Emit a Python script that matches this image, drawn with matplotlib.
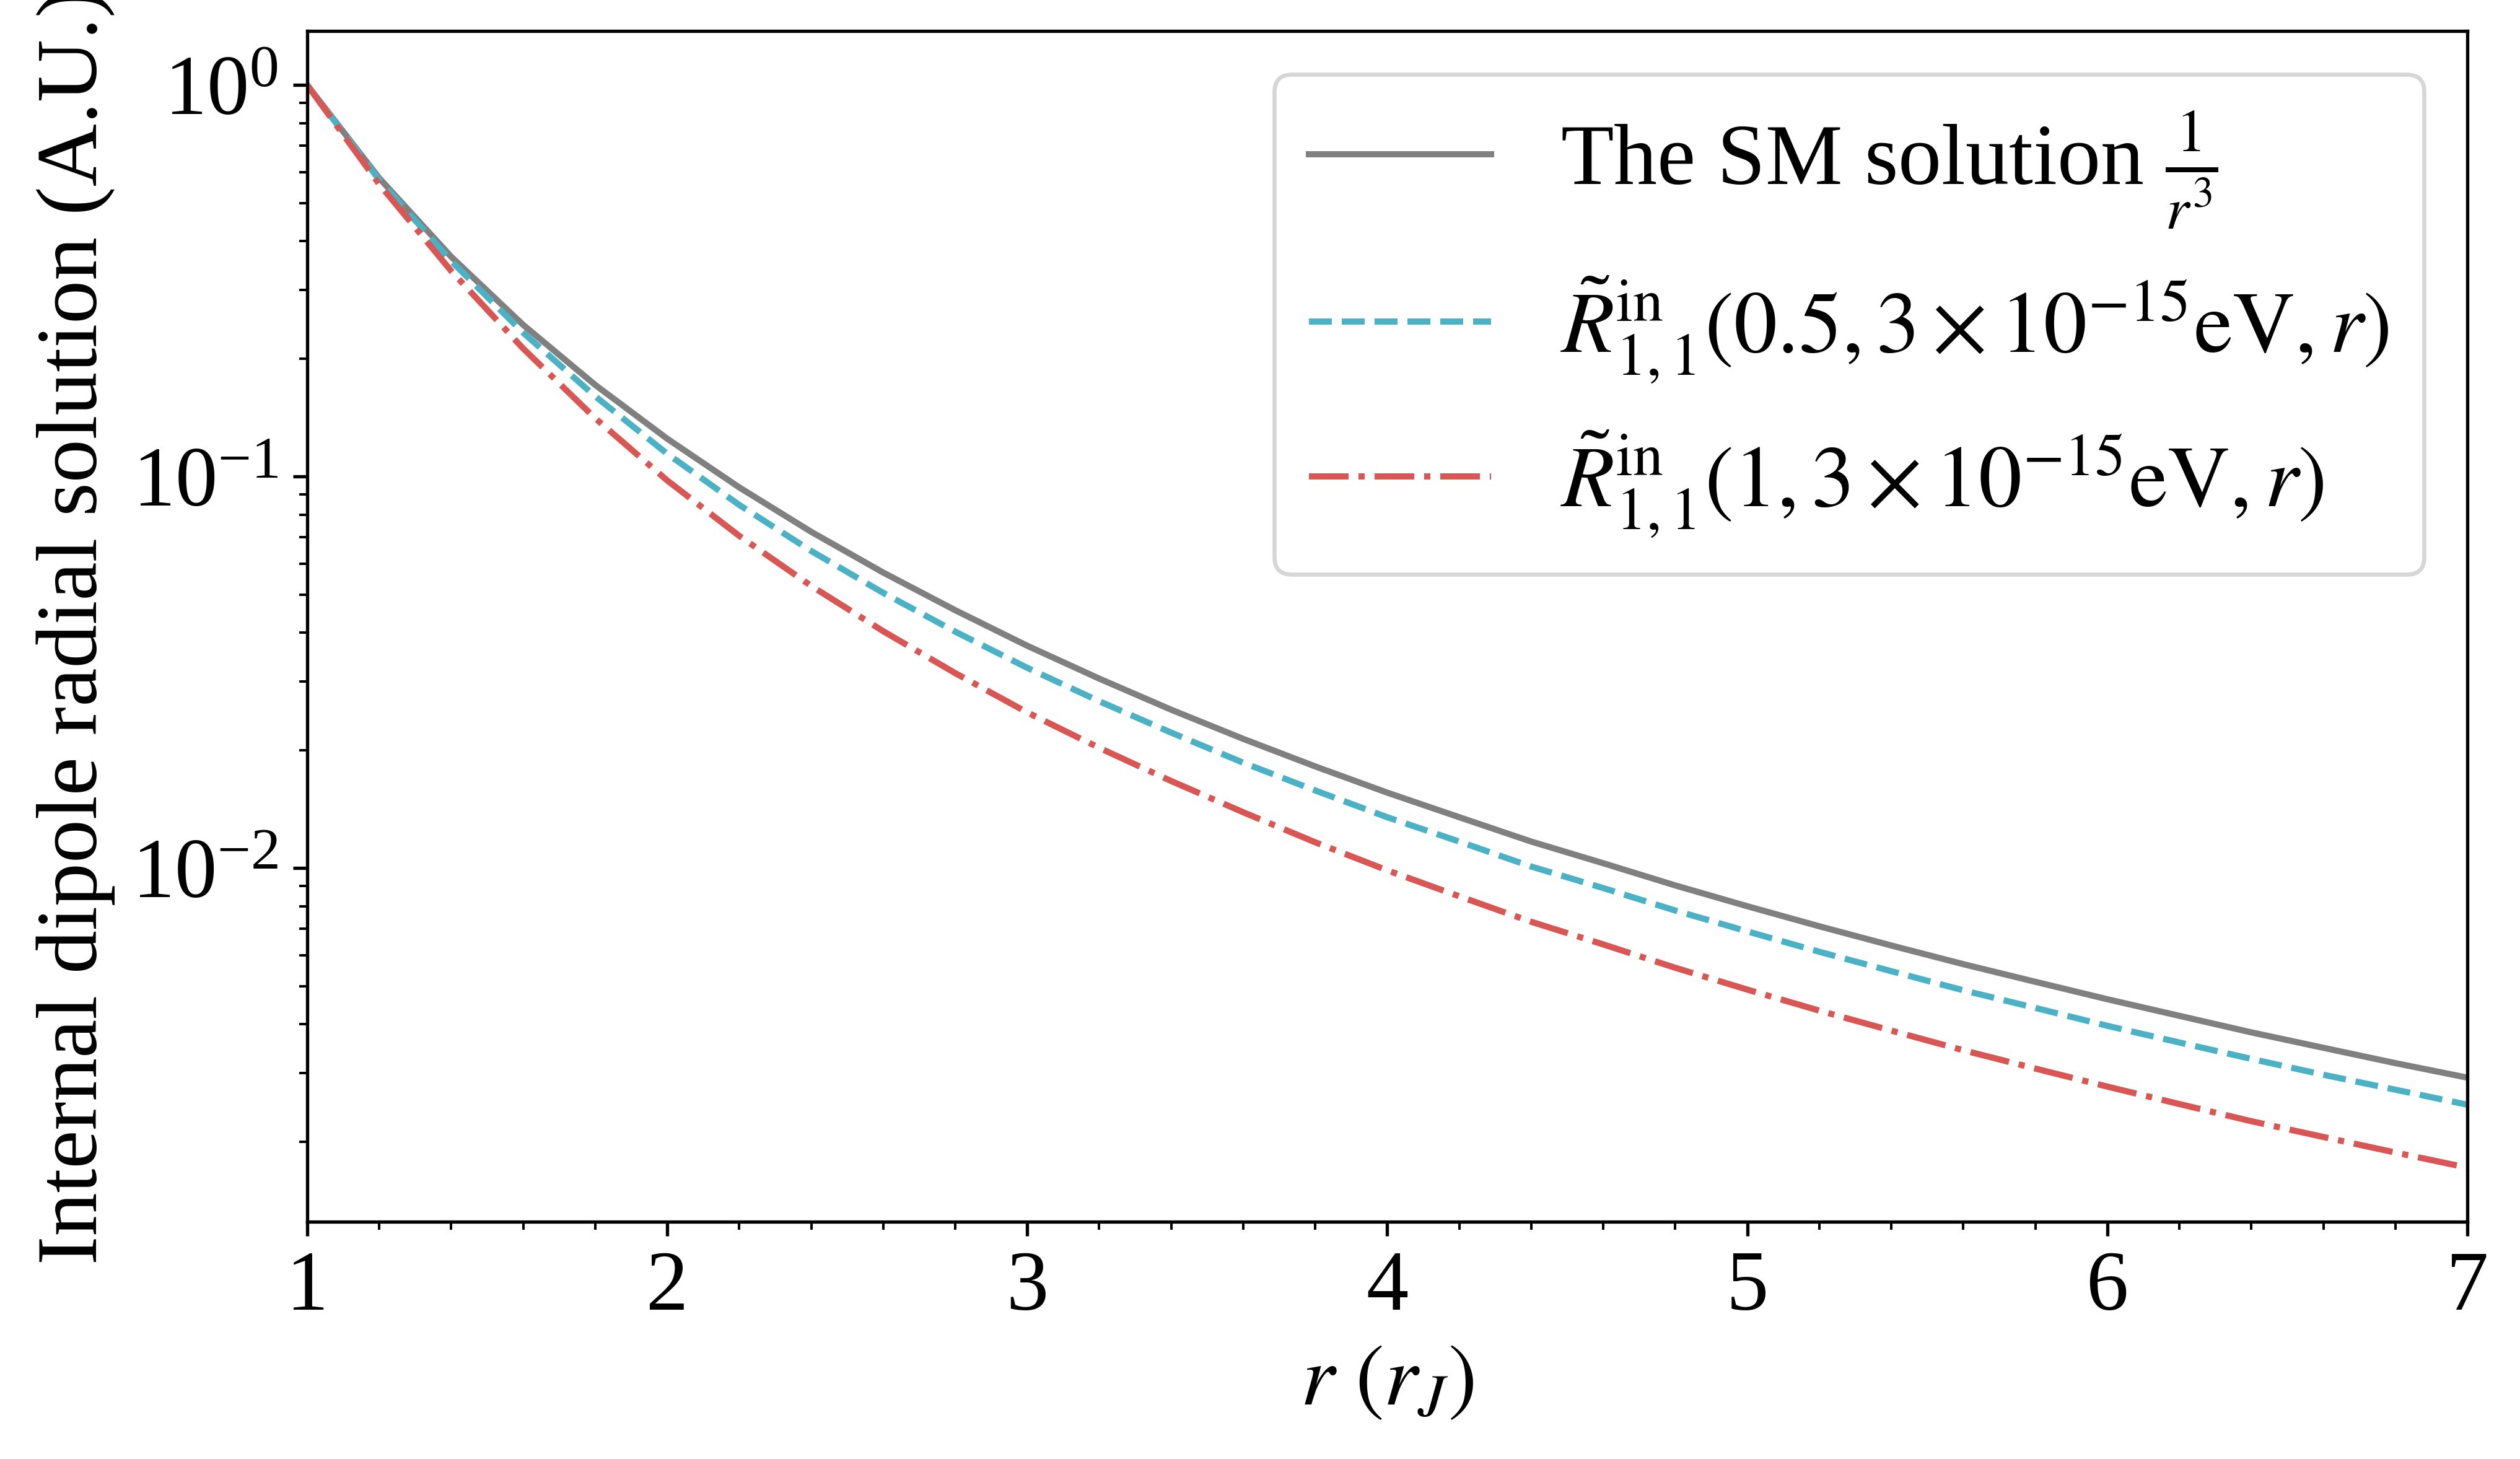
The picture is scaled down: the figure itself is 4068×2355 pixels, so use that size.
import matplotlib
matplotlib.use("Agg")
import matplotlib.pyplot as plt

plt.rcParams['font.family'] = ['Liberation Serif', 'STIXGeneral', 'DejaVu Serif']
plt.rcParams['mathtext.fontset'] = 'stix'

# radius in units of r_J
r_vals = [1.0, 1.2, 1.4, 1.6, 1.8, 2.0, 2.2, 2.4, 2.6, 2.8, 3.0,
          3.2, 3.4, 3.6, 3.8, 4.0, 4.2, 4.4, 4.6, 4.8, 5.0,
          5.2, 5.4, 5.6, 5.8, 6.0, 6.2, 6.4, 6.6, 6.8, 7.0]

# SM solution 1/r^3
sm_vals = [1.0, 0.5787, 0.3644, 0.2441, 0.1715, 0.125, 0.0939, 0.0723, 0.0569, 0.0456, 0.0370,
           0.0305, 0.0254, 0.0214, 0.0182, 0.0156, 0.0135, 0.0117, 0.0103, 0.00904, 0.0080,
           0.00711, 0.00635, 0.00569, 0.00513, 0.00463, 0.00420, 0.00381, 0.00348, 0.00318, 0.00292]

# R_in(0.5, 3e-15 eV, r)
r05_vals = [1.0, 0.5729, 0.3553, 0.2331, 0.1604, 0.1144, 0.0847, 0.0646, 0.0505, 0.0402, 0.0325,
            0.0267, 0.0222, 0.0186, 0.0158, 0.0135, 0.0117, 0.0101, 0.00890, 0.00780, 0.00690,
            0.00612, 0.00546, 0.00488, 0.00440, 0.00396, 0.00359, 0.00326, 0.00297, 0.00272, 0.00249]

# R_in(1, 3e-15 eV, r)
r1_vals = [1.0, 0.5584, 0.3352, 0.2124, 0.1410, 0.0978, 0.0706, 0.0526, 0.0403, 0.0315, 0.0250,
           0.0203, 0.0167, 0.0139, 0.01165, 0.00988, 0.00848, 0.00730, 0.00639, 0.00557, 0.00490,
           0.00433, 0.00385, 0.00343, 0.00308, 0.00277, 0.00250, 0.00226, 0.00206, 0.00188, 0.00172]

labels = [r'The SM solution $\frac{1}{r^3}$',
          r'$\tilde{R}^{\rm in}_{1,1}(0.5, 3\times10^{-15}{\rm eV}, r)$',
          r'$\tilde{R}^{\rm in}_{1,1}(1, 3\times10^{-15}{\rm eV}, r)$']

fig = plt.figure(figsize=(4068 / 480, 2355 / 480), dpi=480)
ax = fig.add_axes([0.1219, 0.1626, 0.8572, 0.8162])

ax.plot(r_vals, sm_vals, '-', color='#808080', lw=1.5, label=labels[0])
ax.plot(r_vals, r05_vals, '--', color='#4ab2c4', lw=1.5, label=labels[1])
ax.plot(r_vals, r1_vals, '-.', color='#d85754', lw=1.5, label=labels[2])

ax.set_yscale('log')
ax.set_xlim(1, 7)
ax.xaxis.set_minor_locator(matplotlib.ticker.MultipleLocator(0.2))
ax.tick_params(labelsize=20.5)

ax.set_xlabel(r'$r~(r_J)$', fontsize=21)
ax.set_ylabel('Internal dipole radial solution (A.U.)', fontsize=21)

ax.legend(loc='upper right', fontsize=21, handlelength=2.1)

fig.savefig('out.png', dpi=480)
